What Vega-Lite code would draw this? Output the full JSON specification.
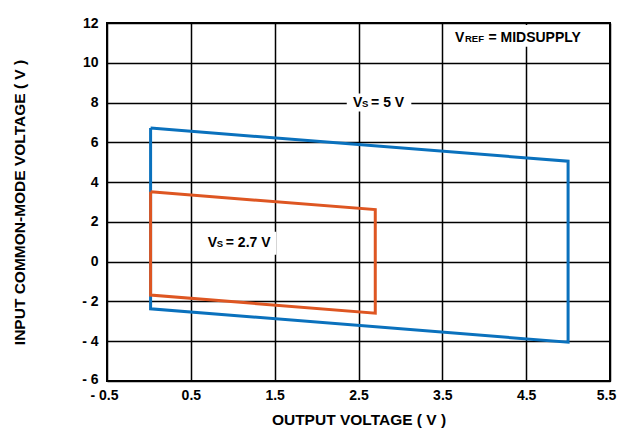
{
  "$schema": "https://vega.github.io/schema/vega-lite/v6.json",
  "width": 503,
  "height": 358,
  "autosize": "none",
  "padding": {"left": 107, "top": 23, "right": 8, "bottom": 50},
  "background": "white",
  "config": {
    "view": {"stroke": "black", "strokeWidth": 2},
    "font": "Liberation Sans",
    "axis": {
      "labelFont": "Liberation Sans",
      "titleFont": "Liberation Sans",
      "labelFontWeight": "bold",
      "titleFontWeight": "bold",
      "labelColor": "black",
      "titleColor": "black",
      "labelFontSize": 14,
      "titleFontSize": 15.5,
      "labelOverlap": false,
      "labelFlush": false,
      "grid": true,
      "gridColor": "black",
      "gridWidth": 1.5,
      "gridOpacity": 1,
      "ticks": false,
      "domain": false,
      "tickCount": 30
    }
  },
  "datasets": {
    "curves": [
      {"series": "Vs = 5 V", "order": 0, "out": 0.02, "vcm": 6.72},
      {"series": "Vs = 5 V", "order": 1, "out": 5.0, "vcm": 5.05},
      {"series": "Vs = 5 V", "order": 2, "out": 5.0, "vcm": -4.05},
      {"series": "Vs = 5 V", "order": 3, "out": 0.02, "vcm": -2.37},
      {"series": "Vs = 5 V", "order": 4, "out": 0.02, "vcm": 6.72},
      {"series": "Vs = 2.7 V", "order": 0, "out": 0.02, "vcm": 3.51},
      {"series": "Vs = 2.7 V", "order": 1, "out": 2.7, "vcm": 2.62},
      {"series": "Vs = 2.7 V", "order": 2, "out": 2.7, "vcm": -2.59},
      {"series": "Vs = 2.7 V", "order": 3, "out": 0.02, "vcm": -1.68},
      {"series": "Vs = 2.7 V", "order": 4, "out": 0.02, "vcm": 3.51}
    ],
    "boxes": [
      {"name": "vs5", "x0": 2.36, "x1": 3.13, "y0": 7.55, "y1": 8.45},
      {"name": "vs27", "x0": 0.55, "x1": 1.52, "y0": 0.35, "y1": 1.5},
      {"name": "vref", "x0": 3.58, "x1": 5.2, "y0": 10.8, "y1": 11.9}
    ],
    "bigText": [
      {"text": "V", "x": 2.435, "y": 8},
      {"text": "= 5 V", "x": 2.65, "y": 8},
      {"text": "V", "x": 0.702, "y": 0.95},
      {"text": "= 2.7 V", "x": 0.917, "y": 0.95},
      {"text": "V", "x": 3.65, "y": 11.25},
      {"text": "= MIDSUPPLY", "x": 4.05, "y": 11.25}
    ],
    "smallText": [
      {"text": "S", "x": 2.543, "y": 8},
      {"text": "S", "x": 0.81, "y": 0.95},
      {"text": "REF", "x": 3.77, "y": 11.25}
    ]
  },
  "layer": [
    {
      "data": {"name": "boxes"},
      "mark": {"type": "rect", "fill": "white", "strokeWidth": 0},
      "encoding": {
        "x": {"field": "x0", "type": "quantitative", "scale": {"domain": [-0.5, 5.5], "nice": false, "zero": false},
          "axis": {"values": [-0.5, 0.5, 1.5, 2.5, 3.5, 4.5, 5.5], "title": "OUTPUT VOLTAGE ( V )", "labelPadding": 7, "titlePadding": 10,
            "labelOffset": {"condition": [{"test": "datum.value > 5", "value": -4}, {"test": "datum.value < 0", "value": -3}], "value": 0},
            "labelExpr": "datum.value < 0 ? '- ' + format(abs(datum.value), '.1f') : format(datum.value, '.1f')"}},
        "x2": {"field": "x1"},
        "y": {"field": "y0", "type": "quantitative", "scale": {"domain": [-6, 12], "nice": false, "zero": false},
          "axis": {"values": [-6, -4, -2, 0, 2, 4, 6, 8, 10, 12], "title": "INPUT COMMON-MODE VOLTAGE ( V )", "labelPadding": 9, "titlePadding": 54,
            "labelOffset": {"condition": {"test": "datum.value < -5", "value": -2}, "value": 0},
            "labelExpr": "datum.value < 0 ? '- ' + abs(datum.value) : '' + datum.value"}},
        "y2": {"field": "y1"}
      }
    },
    {
      "data": {"name": "curves"},
      "transform": [{"filter": "datum.series == 'Vs = 5 V'"}],
      "mark": {"type": "line", "stroke": "#0A71BD", "strokeWidth": 3, "strokeJoin": "miter"},
      "encoding": {
        "x": {"field": "out", "type": "quantitative"},
        "y": {"field": "vcm", "type": "quantitative"},
        "order": {"field": "order", "type": "quantitative"}
      }
    },
    {
      "data": {"name": "curves"},
      "transform": [{"filter": "datum.series == 'Vs = 2.7 V'"}],
      "mark": {"type": "line", "stroke": "#DE5622", "strokeWidth": 3, "strokeJoin": "miter"},
      "encoding": {
        "x": {"field": "out", "type": "quantitative"},
        "y": {"field": "vcm", "type": "quantitative"},
        "order": {"field": "order", "type": "quantitative"}
      }
    },
    {
      "data": {"name": "bigText"},
      "mark": {"type": "text", "align": "left", "baseline": "middle", "fontSize": 14, "fontWeight": "bold", "color": "black", "font": "Liberation Sans"},
      "encoding": {
        "x": {"field": "x", "type": "quantitative"},
        "y": {"field": "y", "type": "quantitative"},
        "text": {"field": "text"}
      }
    },
    {
      "data": {"name": "smallText"},
      "mark": {"type": "text", "align": "left", "baseline": "middle", "dy": 1, "fontSize": 9.5, "fontWeight": "bold", "color": "black", "font": "Liberation Sans"},
      "encoding": {
        "x": {"field": "x", "type": "quantitative"},
        "y": {"field": "y", "type": "quantitative"},
        "text": {"field": "text"}
      }
    }
  ]
}
